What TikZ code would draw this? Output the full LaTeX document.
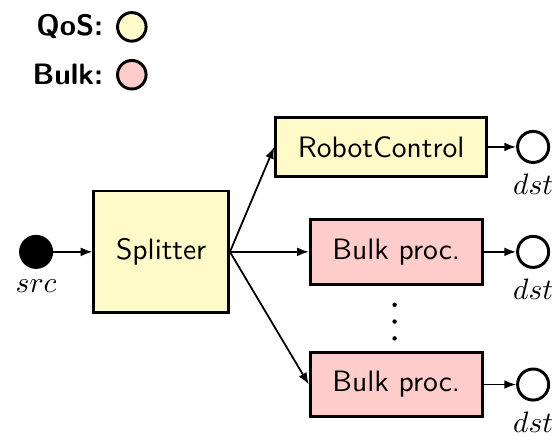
\documentclass[tikz,border=0pt]{standalone}
\usepackage{tikz}
\usetikzlibrary{positioning,arrows.meta}
\definecolor{qosyellow}{RGB}{255,250,200}
\definecolor{bulkpink}{RGB}{255,204,204}
\tikzset{
	procbox/.style={draw, line width=1pt, font=\sffamily, inner xsep=7.5pt, inner ysep=6.5pt},
	endpoint/.style={circle, draw, line width=1pt, minimum size=0.37cm, inner sep=0pt, label distance=1pt},
	legdot/.style={circle, draw, line width=1pt, minimum size=0.34cm, inner sep=0pt},
	legtext/.style={font=\sffamily\bfseries},
	flow/.style={-{Latex[length=4pt, width=3pt]}, semithick}
}

\begin{document}
\begin{tikzpicture}
			%%%%% START %%%%%
			\useasboundingbox (-0.43, -2.19) rectangle (6.24, 3.0);
			
			% legend
			\node[legdot, fill=qosyellow] (qosdot) at (1.14, 2.68) {};
			\node[legtext, left=0.3mm of qosdot] (qoslabel) {QoS:};
			\node[legdot, fill=bulkpink] (bulkdot) at (1.14, 2.11) {};
			\node[legtext, left=0.3mm of bulkdot] (bulklabel) {Bulk:};
			
			% source and splitter
			\node[endpoint, fill=black, label=below:$src$] (src) at (0, 0) {};
			\node[procbox, fill=qosyellow, minimum width=1.57cm, minimum height=1.45cm] (splitter) at (1.49, 0) {Splitter};
			
			% stages
			\node[procbox, fill=qosyellow] (robot) at (4.11, 1.25) {RobotControl};
			\node[procbox, fill=bulkpink] (bulka) at (4.29, 0) {Bulk proc.};
			\node[procbox, fill=bulkpink] (bulkb) at (4.29, -1.58) {Bulk proc.};
			\coordinate (vdots) at (4.27, -0.83);
			\foreach \k in {-1, 0, 1}
				\fill (vdots) ++(0, \k*0.2) circle (0.75pt);
			
			% sinks
			\node[endpoint, label=below:$dst$] (dsta) at (5.92, 1.25) {};
			\node[endpoint, label=below:$dst$] (dstb) at (5.92, 0) {};
			\node[endpoint, label=below:$dst$] (dstc) at (5.92, -1.58) {};
			
			% connectors
			\draw[flow] (src) -- (splitter);
			\draw[flow] (splitter.east) -- (robot.west);
			\draw[flow] (splitter.east) -- (bulka.west);
			\draw[flow] (splitter.east) -- (bulkb.west);
			\draw[flow] (robot) -- (dsta);
			\draw[flow] (bulka) -- (dstb);
			\draw[flow] (bulkb) -- (dstc);
			
			%%%%% END %%%%%
		\end{tikzpicture}
\end{document}
